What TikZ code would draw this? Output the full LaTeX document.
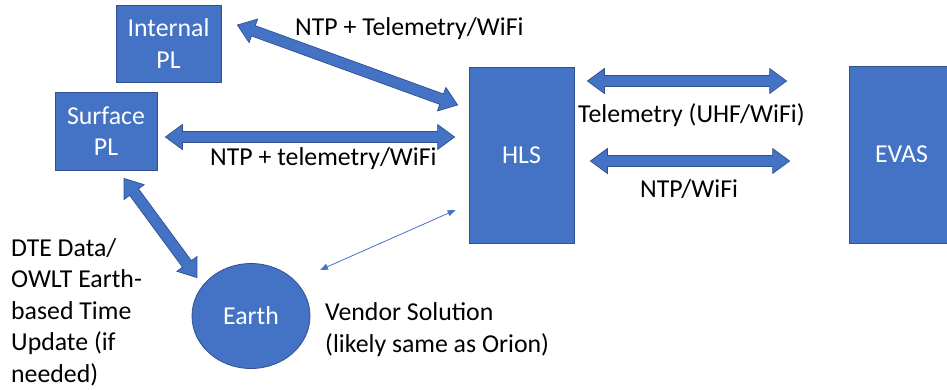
\documentclass[tikz,border=0pt]{standalone}
\usepackage{fontspec}
\setmainfont{Carlito}
\usetikzlibrary{calc,arrows.meta,shapes.geometric}
\definecolor{ofblue}{HTML}{4472C4}
\definecolor{ofdark}{HTML}{2F528F}
\def\ahl{17bp}
\def\ahw{12.5bp}
\def\asw{5.5bp}
\newcommand\dblarrow[2]{%
  \draw[blockarrow] (#1)
    -- ($(#1)!\ahl!(#2)!\ahw!90:(#2)$)
    -- ($(#1)!\ahl!(#2)!\asw!90:(#2)$)
    -- ($(#2)!\ahl!(#1)!\asw!-90:(#1)$)
    -- ($(#2)!\ahl!(#1)!\ahw!-90:(#1)$)
    -- (#2)
    -- ($(#2)!\ahl!(#1)!\ahw!90:(#1)$)
    -- ($(#2)!\ahl!(#1)!\asw!90:(#1)$)
    -- ($(#1)!\ahl!(#2)!\asw!-90:(#2)$)
    -- ($(#1)!\ahl!(#2)!\ahw!-90:(#2)$)
    -- cycle;}
\begin{document}
\begin{tikzpicture}[x=1bp,y=-1bp,
  txt/.style={font=\fontsize{25.8bp}{31.4bp}\selectfont},
  box/.style={txt,draw=ofdark,fill=ofblue,line width=0.8bp,text=white,align=center,inner sep=0pt},
  lbl/.style={txt,inner sep=0pt,anchor=base west,align=left,text=black},
  blockarrow/.style={draw=ofdark,fill=ofblue,line width=0.7bp,line join=miter},
  thinarrow/.style={draw=ofblue,line width=0.8bp,{Triangle[length=8bp,width=6bp]}-{Triangle[length=8bp,width=6bp]}}]
\useasboundingbox (0,0) rectangle (947,389);
% nodes
\node[box,minimum width=105bp,minimum height=77bp] (int) at (168.5,43.5) {Internal\\PL};
\node[box,minimum width=102bp,minimum height=78bp] (surf) at (106,131) {Surface\\PL};
\node[box,minimum width=105bp,minimum height=176bp] (hls) at (521.5,155) {HLS};
\node[box,minimum width=105bp,minimum height=177bp] (evas) at (901.5,154.5) {EVAS};
\node[box,ellipse,inner sep=0pt,minimum width=118bp,minimum height=105bp] (earth) at (251,316) {Earth};
% connector end points
\coordinate (a1) at ($(int.east)+(16,-18.5)$);
\coordinate (b1) at ($(hls.west)+(-11,-50)$);
\coordinate (a2) at ($(surf.east)+(8,6)$);
\coordinate (b2) at ($(hls.west)+(-14,-18)$);
\coordinate (a3) at ($(surf.south)+(18,8)$);
\coordinate (b3) at ($(earth.north west)+(-12,-1)$);
\coordinate (a4) at ($(hls.east)+(13,-74)$);
\coordinate (b4) at ($(evas.west)+(-62,-73.5)$);
\coordinate (a5) at ($(hls.east)+(16,6)$);
\coordinate (b5) at ($(evas.west)+(-59,6.5)$);
\coordinate (a6) at ($(earth.center)+(69,-46)$);
\coordinate (b6) at ($(hls.west)+(-13,55)$);
% connectors
\dblarrow{a1}{b1}
\dblarrow{a2}{b2}
\dblarrow{a3}{b3}
\dblarrow{a4}{b4}
\dblarrow{a5}{b5}
\draw[thinarrow] (a6) -- (b6);
% labels
\node[lbl] (l1) at (295,35) {NTP + Telemetry/WiFi};
\node[lbl] (l2) at (210,165) {NTP + telemetry/WiFi};
\node[lbl] (l3) at (578,122) {Telemetry (UHF/WiFi)};
\node[lbl] (l4) at (640,197) {NTP/WiFi};
\node[lbl] (l5) at (11,382) {DTE Data/\\OWLT Earth-\\based Time\\Update (if\\needed)};
\node[lbl] (l6) at (325,352) {Vendor Solution\\(likely same as Orion)};
\end{tikzpicture}
\end{document}
